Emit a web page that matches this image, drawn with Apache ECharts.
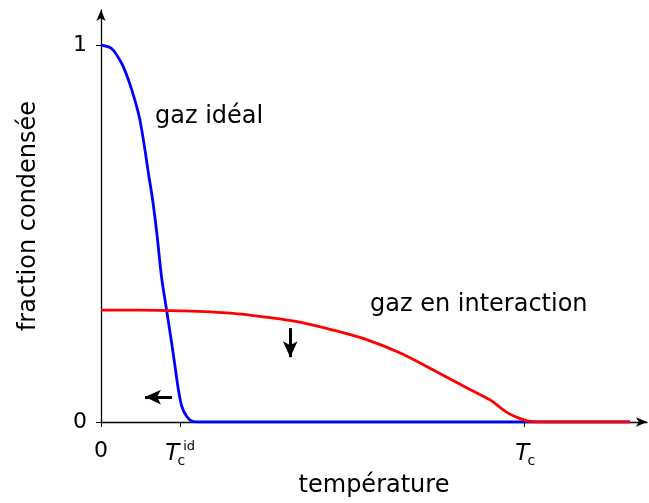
<!DOCTYPE html>
<html>
<head>
<meta charset="utf-8">
<script src="https://cdn.jsdelivr.net/npm/echarts@6/dist/echarts.min.js"></script>
<style>
  html, body { margin: 0; padding: 0; background: #fff; }
  #chart { width: 649px; height: 503px; }
</style>
</head>
<body>
<div id="chart"></div>
<script>
// temperature in units of Tc, fraction condensed (0..1)
const idealTemps = [0, 0.025, 0.049, 0.065, 0.080, 0.092, 0.104, 0.112, 0.122, 0.132, 0.143, 0.155, 0.167, 0.175, 0.183, 0.191, 0.203, 0.218, 0.234, 0.3, 1.25];
const idealFrac  = [1.0, 0.991, 0.951, 0.907, 0.854, 0.801, 0.721, 0.660, 0.589, 0.500, 0.385, 0.297, 0.209, 0.147, 0.085, 0.041, 0.014, 0.001, 0, 0, 0];

const interTemps = [0, 0.092, 0.187, 0.305, 0.40, 0.470, 0.548, 0.629, 0.707, 0.785, 0.865, 0.920, 0.957, 0.986, 1.007, 1.031, 1.06, 1.25];
const interFrac  = [0.297, 0.297, 0.295, 0.289, 0.277, 0.265, 0.244, 0.218, 0.183, 0.138, 0.090, 0.058, 0.027, 0.011, 0.003, 0.0005, 0, 0];

const xTicks = [0, 0.187, 1];
const xTickLabels = ['0', '{t|T}{c|c}{s|id}', '{t|T}{c|c}'];
const yTicks = [0, 1];
const yTickLabels = ['0', '1'];

// annotation arrows (from, to) in data units
const leftArrow = [[0.168, 0.066], [0.104, 0.066]];
const downArrow = [[0.447, 0.249], [0.447, 0.172]];

const FONT = 'DejaVu Sans';

const zip = (xs, ys) => xs.map((x, i) => [x, ys[i]]);

const chart = echarts.init(document.getElementById('chart'));

chart.setOption({
    animation: false,
    backgroundColor: '#fff',
    grid: { left: 101, right: 2, top: 10, bottom: 81, containLabel: false },
    xAxis: {
        type: 'value',
        min: 0,
        max: 1.29,
        splitLine: { show: false },
        axisLine: { lineStyle: { color: '#000', width: 1.3 }, symbol: ['none', 'arrow'], symbolSize: [7, 11] },
        axisTick: { customValues: xTicks, length: 5, lineStyle: { color: '#000', width: 1 } },
        axisLabel: {
            customValues: xTicks,
            margin: 18,
            color: '#000',
            fontFamily: FONT,
            fontSize: 22,
            formatter: (v) => xTickLabels[xTicks.indexOf(v)] || '',
            rich: {
                t: { fontFamily: FONT, fontSize: 23, fontStyle: 'italic', color: '#000', lineHeight: 28, verticalAlign: 'middle' },
                c: { fontFamily: FONT, fontSize: 14, color: '#000', lineHeight: 12, verticalAlign: 'bottom', width: 4 },
                s: { fontFamily: FONT, fontSize: 13, color: '#000', lineHeight: 12, verticalAlign: 'top' }
            }
        },
        name: 'température',
        nameLocation: 'middle',
        nameGap: 52,
        nameTextStyle: { color: '#000', fontFamily: FONT, fontSize: 24 }
    },
    yAxis: {
        type: 'value',
        min: 0,
        max: 1.093,
        splitLine: { show: false },
        axisLine: { lineStyle: { color: '#000', width: 1.3 }, symbol: ['none', 'arrow'], symbolSize: [7, 11] },
        axisTick: { customValues: yTicks, length: 5, lineStyle: { color: '#000', width: 1 } },
        axisLabel: {
            customValues: yTicks,
            margin: 14,
            color: '#000',
            fontFamily: FONT,
            fontSize: 22,
            formatter: (v) => yTickLabels[yTicks.indexOf(v)] || ''
        },
        name: 'fraction condensée',
        nameLocation: 'middle',
        nameGap: 60,
        nameTextStyle: { color: '#000', fontFamily: FONT, fontSize: 24 }
    },
    graphic: [
        { type: 'text', left: 155, top: 105, style: { text: 'gaz idéal', font: '24px "DejaVu Sans"', fill: '#000' } },
        { type: 'text', left: 370, top: 293, style: { text: 'gaz en interaction', font: '24px "DejaVu Sans"', fill: '#000' } }
    ],
    series: [
        {
            name: 'gaz idéal',
            type: 'line',
            data: zip(idealTemps, idealFrac),
            smooth: 0.3,
            showSymbol: false,
            lineStyle: { color: '#0000ff', width: 2.8 }
        },
        {
            name: 'gaz en interaction',
            type: 'line',
            data: zip(interTemps, interFrac),
            smooth: 0.3,
            showSymbol: false,
            lineStyle: { color: '#ff0000', width: 2.8 }
        },
        {
            name: 'flèches',
            type: 'line',
            data: [],
            markLine: {
                silent: true,
                symbol: ['none', 'arrow'],
                symbolSize: [11, 16],
                label: { show: false },
                lineStyle: { color: '#000', width: 3, type: 'solid' },
                data: [
                    [{ coord: leftArrow[0] }, { coord: leftArrow[1] }],
                    [{ coord: downArrow[0] }, { coord: downArrow[1] }]
                ]
            }
        }
    ]
});
</script>
</body>
</html>
